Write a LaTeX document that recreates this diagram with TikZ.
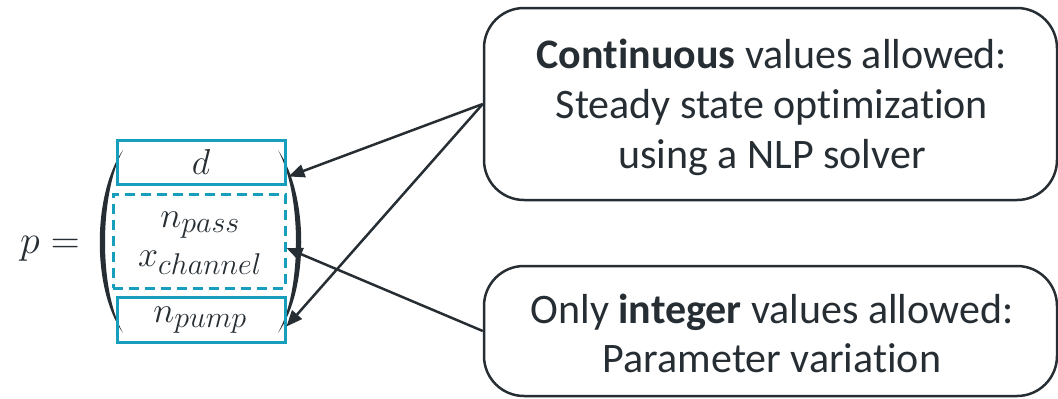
\RequirePackage{fix-cm}
\documentclass[tikz,border=0pt]{standalone}
\usepackage{fontspec}
\setmainfont{Carlito}[Ligatures=NoCommon]
\usetikzlibrary{arrows.meta,calc}
\DeclareMathSizes{36}{36}{30}{24}
\DeclareMathSizes{40}{40}{32}{26}
\definecolor{ink}{RGB}{38,46,52}
\definecolor{teal}{RGB}{22,158,188}
\tikzset{
  x=1pt, y=-1pt,
  slot/.style={draw=teal, line width=3pt, inner sep=0pt},
  note/.style={draw=ink, line width=2.5pt, rounded corners=40pt, inner sep=0pt},
  notetext/.style={text=ink, align=center, anchor=base, inner sep=0pt,
    font=\fontsize{42}{50}\selectfont},
  link/.style={draw=ink, line width=2.5pt, -{Triangle[length=16pt,width=13pt]}},
  mathtxt/.style={text=ink, font=\fontsize{36}{40}\selectfont, anchor=base, inner sep=0pt}
}
\begin{document}
\begin{tikzpicture}
\useasboundingbox (0,0) rectangle (1058,399);

% p = ( ... )
\node[text=ink, font=\fontsize{40}{44}\selectfont, anchor=base, inner sep=0pt] (peq) at (50,253) {$p=$};

% parentheses
\fill[ink] (123,150) .. controls (92,195) and (92,290) .. (123,333)
           .. controls (99,290) and (99,195) .. (123,150) -- cycle;
\fill[ink] (278,150) .. controls (309,195) and (309,290) .. (278,333)
           .. controls (302,290) and (302,195) .. (278,150) -- cycle;

% parameter slots
\node[slot, minimum width=168pt, minimum height=44pt] (dbox) at (201,162) {};
\node[mathtxt] at (201,174) {$d$};
\node[slot, dashed, dash pattern=on 10pt off 6pt, minimum width=172pt, minimum height=94pt] (mid) at (199,241) {};
\node[mathtxt] at (200,227) {$n_{pass}$};
\node[mathtxt] at (200,266) {$x_{channel}$};
\node[slot, minimum width=168pt, minimum height=45pt] (pump) at (201,319.5) {};
\node[mathtxt] at (200,322) {$n_{pump}$};

% explanation boxes
\node[note, minimum width=573pt, minimum height=192pt] (cont) at (770.5,104) {};
\node[notetext] at (772,68) {\textbf{Continuous} values allowed:};
\node[notetext] at (772,118) {Steady state optimization};
\node[notetext] at (772,168) {using a NLP solver};
\node[note, minimum width=573pt, minimum height=130pt] (integ) at (770.5,331) {};
\node[notetext] at (772,323) {Only \textbf{integer} values allowed:};
\node[notetext] at (772,372) {Parameter variation};

% connectors
\draw[link] (cont.west) -- ($(dbox.south east)+(2,-9)$);
\draw[link] (cont.west) -- ($(pump.east)+(0,7)$);
\draw[link] (integ.west) -- ($(mid.east)+(0,7)$);
\end{tikzpicture}
\end{document}
